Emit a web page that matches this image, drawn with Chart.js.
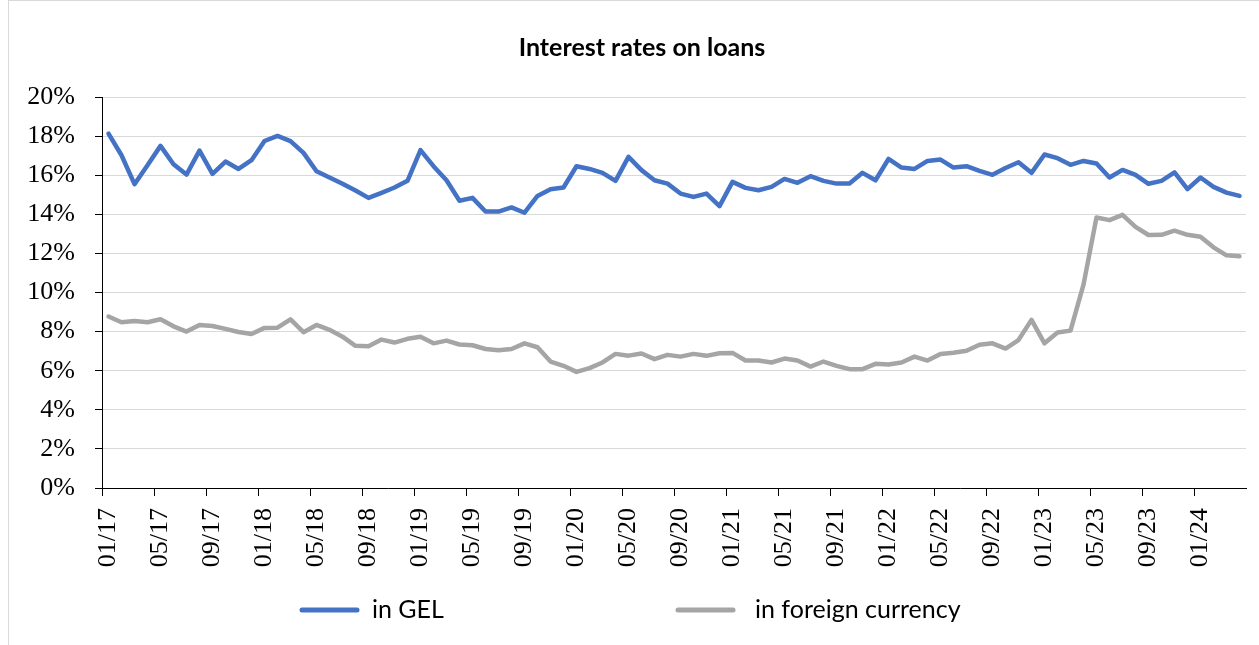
<!DOCTYPE html>
<html lang="en">
<head>
<meta charset="utf-8">
<title>Interest rates on loans</title>
<script src="https://cdn.jsdelivr.net/npm/chart.js@4.4.1/dist/chart.umd.min.js"></script>
<style>
    html, body { margin: 0; padding: 0; background: #fff; }
    #graficoJuros { display: block; }
</style>
</head>
<body>
<canvas id="graficoJuros" width="1259" height="645"></canvas>
<script>

// months, 01/17 .. 04/24
var meses = [
    '01/17', '02/17', '03/17', '04/17', '05/17', '06/17', '07/17', '08/17', '09/17', '10/17', '11/17', '12/17',
    '01/18', '02/18', '03/18', '04/18', '05/18', '06/18', '07/18', '08/18', '09/18', '10/18', '11/18', '12/18',
    '01/19', '02/19', '03/19', '04/19', '05/19', '06/19', '07/19', '08/19', '09/19', '10/19', '11/19', '12/19',
    '01/20', '02/20', '03/20', '04/20', '05/20', '06/20', '07/20', '08/20', '09/20', '10/20', '11/20', '12/20',
    '01/21', '02/21', '03/21', '04/21', '05/21', '06/21', '07/21', '08/21', '09/21', '10/21', '11/21', '12/21',
    '01/22', '02/22', '03/22', '04/22', '05/22', '06/22', '07/22', '08/22', '09/22', '10/22', '11/22', '12/22',
    '01/23', '02/23', '03/23', '04/23', '05/23', '06/23', '07/23', '08/23', '09/23', '10/23', '11/23', '12/23',
    '01/24', '02/24', '03/24', '04/24'
];

// loans in GEL, %
var jurosGel = [
    18.13, 17.02, 15.54, 16.51, 17.50, 16.56, 16.03, 17.26, 16.07, 16.70, 16.32, 16.77,
    17.75, 18.01, 17.74, 17.14, 16.20, 15.88, 15.56, 15.22, 14.84, 15.10, 15.37, 15.71,
    17.28, 16.46, 15.74, 14.69, 14.84, 14.14, 14.14, 14.35, 14.08, 14.94, 15.28, 15.37,
    16.46, 16.32, 16.12, 15.71, 16.94, 16.26, 15.74, 15.57, 15.06, 14.89, 15.06, 14.42,
    15.66, 15.35, 15.23, 15.40, 15.81, 15.61, 15.95, 15.71, 15.57, 15.57, 16.12, 15.74,
    16.83, 16.39, 16.32, 16.73, 16.80, 16.39, 16.46, 16.22, 16.02, 16.37, 16.66, 16.12,
    17.06, 16.87, 16.53, 16.73, 16.60, 15.88, 16.27, 16.02, 15.56, 15.71, 16.14, 15.29,
    15.88, 15.40, 15.11, 14.94
];

// loans in foreign currency, %
var jurosMoeda = [
    8.77, 8.48, 8.54, 8.48, 8.63, 8.27, 8.00, 8.34, 8.29, 8.14, 7.98, 7.88,
    8.19, 8.20, 8.63, 7.97, 8.34, 8.09, 7.74, 7.27, 7.25, 7.59, 7.44, 7.63,
    7.74, 7.40, 7.54, 7.34, 7.30, 7.11, 7.05, 7.11, 7.40, 7.20, 6.47, 6.25,
    5.94, 6.13, 6.42, 6.86, 6.77, 6.88, 6.59, 6.81, 6.72, 6.86, 6.76, 6.89,
    6.91, 6.52, 6.52, 6.42, 6.62, 6.52, 6.21, 6.47, 6.25, 6.08, 6.08, 6.35,
    6.32, 6.42, 6.72, 6.52, 6.86, 6.92, 7.02, 7.33, 7.40, 7.13, 7.57, 8.60,
    7.40, 7.95, 8.05, 10.40, 13.84, 13.70, 13.97, 13.36, 12.94, 12.95, 13.16, 12.95,
    12.85, 12.31, 11.90, 11.85
];

var ticksY = [0, 2, 4, 6, 8, 10, 12, 14, 16, 18, 20];

// white background and thin frame round the chart
var fundoBorda = {
    id: 'fundoBorda',
    beforeDraw: function (chart) {
        var c = chart.ctx;
        c.save();
        c.fillStyle = '#fff';
        c.fillRect(0, 0, chart.width, chart.height);
        c.strokeStyle = '#d9d9d9';
        c.lineWidth = 1;
        c.strokeRect(8.5, 0.5, chart.width + 20, chart.height + 20);
        c.restore();
    }
};

// the chart box is wider than the canvas, so its title sits a bit right of centre
var tituloDeslocado = {
    id: 'tituloDeslocado',
    afterLayout: function (chart) {
        if (chart.titleBlock) {
            chart.titleBlock.left += 19;
            chart.titleBlock.right += 19;
        }
    }
};

// legend below the axis: a short line and the series name, spread apart
var legendaLinhas = {
    id: 'legendaLinhas',
    afterDraw: function (chart) {
        var c = chart.ctx;
        var inicio = [302, 678];
        var y = 610;
        c.save();
        c.font = '25px Lato';
        c.textBaseline = 'middle';
        c.textAlign = 'left';
        chart.data.datasets.forEach(function (ds, i) {
            c.strokeStyle = ds.borderColor;
            c.lineWidth = 5;
            c.lineCap = 'round';
            c.beginPath();
            c.moveTo(inicio[i], y);
            c.lineTo(inicio[i] + 55, y);
            c.stroke();
            c.fillStyle = '#000';
            c.fillText(ds.label, inicio[i] + (i === 0 ? 70 : 77), y);
        });
        c.restore();
    }
};

var contexto = document.getElementById('graficoJuros').getContext('2d');

window.graficoJuros = new Chart(contexto, {
    type: 'line',
    data: {
        labels: meses,
        datasets: [
            {
                label: 'in GEL',
                data: jurosGel,
                borderColor: '#4472C4',
                borderWidth: 4.5,
                borderJoinStyle: 'round',
                borderCapStyle: 'round',
                pointRadius: 0,
                pointHoverRadius: 0,
                tension: 0,
                fill: false
            },
            {
                label: 'in foreign currency',
                data: jurosMoeda,
                borderColor: '#A5A5A5',
                borderWidth: 4.5,
                borderJoinStyle: 'round',
                borderCapStyle: 'round',
                pointRadius: 0,
                pointHoverRadius: 0,
                tension: 0,
                fill: false
            }
        ]
    },
    options: {
        responsive: false,
        animation: false,
        layout: {
            padding: { left: 0, right: 13, top: 0, bottom: 0 }
        },
        plugins: {
            legend: { display: false },
            tooltip: { enabled: false },
            title: {
                display: true,
                text: 'Interest rates on loans',
                color: '#000',
                font: { family: 'Lato', size: 25, weight: 'bold' },
                padding: { top: 33, bottom: 34 }
            }
        },
        scales: {
            x: {
                offset: true,
                grid: {
                    offset: true,
                    drawOnChartArea: false,
                    tickLength: 8,
                    tickColor: function (ctx) {
                        return ctx.index % 4 === 0 ? '#000' : 'rgba(0,0,0,0)';
                    }
                },
                border: { color: '#000', width: 1 },
                ticks: {
                    autoSkip: false,
                    minRotation: 90,
                    maxRotation: 90,
                    padding: 12,
                    color: '#000',
                    font: { family: 'Liberation Serif', size: 26 },
                    callback: function (valor, i) {
                        return i % 4 === 0 ? meses[i] : '';
                    }
                },
                afterFit: function (escala) {
                    escala.height = 157;
                    // rotated labels need no extra room at the ends
                    escala.paddingLeft = 0;
                    escala.paddingRight = 0;
                }
            },
            y: {
                min: 0,
                max: 20,
                afterBuildTicks: function (escala) {
                    escala.ticks = ticksY.map(function (v) { return { value: v }; });
                },
                grid: {
                    color: '#d9d9d9',
                    tickColor: '#000',
                    tickLength: 7
                },
                border: { color: '#000', width: 1 },
                ticks: {
                    padding: 20,
                    color: '#000',
                    font: { family: 'Liberation Serif', size: 26 },
                    callback: function (valor) {
                        return valor + '%';
                    }
                },
                afterFit: function (escala) {
                    escala.width = 102;
                }
            }
        }
    },
    plugins: [fundoBorda, tituloDeslocado, legendaLinhas]
});

</script>
</body>
</html>
